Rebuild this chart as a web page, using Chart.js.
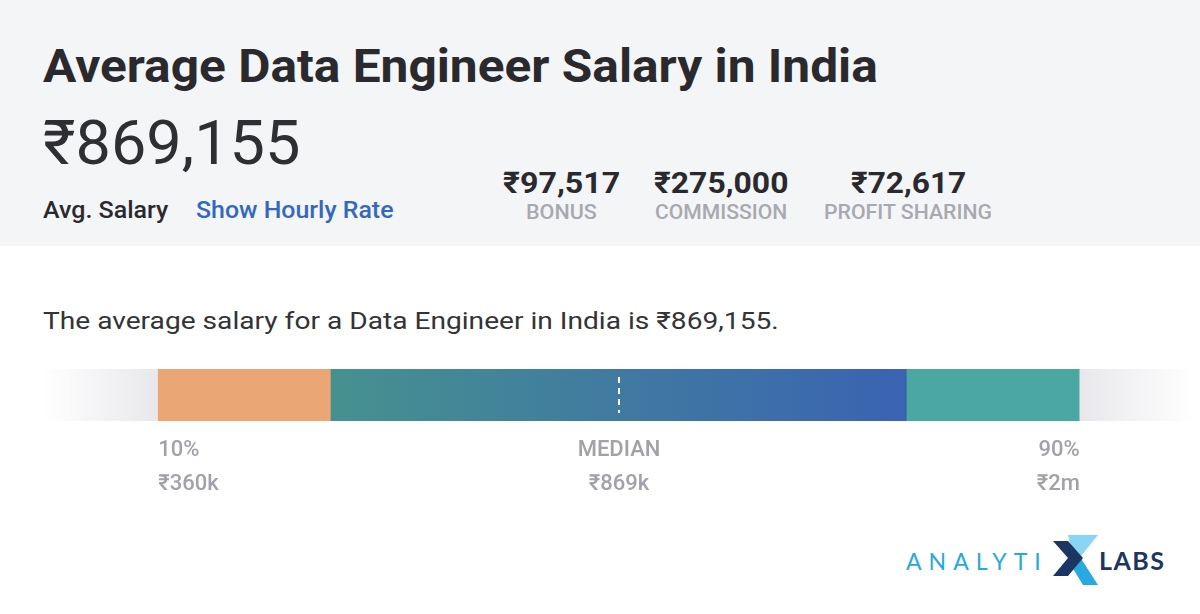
<!DOCTYPE html>
<html>
<head>
<meta charset="utf-8">
<script src="https://cdn.jsdelivr.net/npm/chart.js@4.4.1/dist/chart.umd.min.js"></script>
<style>
  html, body { margin: 0; padding: 0; width: 1200px; height: 614px; overflow: hidden; background: #fff; }
  body { position: relative; font-family: Roboto, "Noto Sans", "DejaVu Sans", sans-serif; }
  .band { position: absolute; left: 0; top: 0; width: 1200px; height: 246px; background: #f4f5f7; }
  .t { position: absolute; white-space: nowrap; line-height: 1; display: inline-block; transform-origin: left center; }
  #chartBox { position: absolute; left: 0; top: 369px; width: 1200px; height: 152px; }
  .logo { position: absolute; white-space: nowrap; line-height: 1; font-family: Lato, "Open Sans", sans-serif; }
</style>
</head>
<body>
<div class="band"></div>

<!-- x, baseline, font size, weight, colour, target width, align -->
<div class="t" data-x="43" data-b="82" data-f="46" data-wt="700" data-c="#2a2a2e" data-w="835">Average Data Engineer Salary in India</div>
<div class="t" data-x="43" data-b="164" data-f="62" data-wt="400" data-c="#2e2e33" data-w="257">₹869,155</div>
<div class="t" data-x="43" data-b="218" data-f="24" data-wt="500" data-c="#2a2a2e" data-w="125">Avg. Salary</div>
<div class="t" data-x="196" data-b="218" data-f="24" data-wt="500" data-c="#3468be" data-w="197">Show Hourly Rate</div>

<div class="t" data-x="561" data-b="193" data-f="30" data-wt="700" data-c="#2a2a2e" data-w="117" data-al="c">₹97,517</div>
<div class="t" data-x="721" data-b="193" data-f="30" data-wt="700" data-c="#2a2a2e" data-w="134" data-al="c">₹275,000</div>
<div class="t" data-x="908" data-b="193" data-f="30" data-wt="700" data-c="#2a2a2e" data-w="115" data-al="c">₹72,617</div>
<div class="t" data-x="561" data-b="219" data-f="20" data-wt="500" data-c="#a8a9b0" data-w="71" data-al="c">BONUS</div>
<div class="t" data-x="721" data-b="219" data-f="20" data-wt="500" data-c="#a8a9b0" data-w="132" data-al="c">COMMISSION</div>
<div class="t" data-x="908" data-b="219" data-f="20" data-wt="500" data-c="#a8a9b0" data-w="168" data-al="c">PROFIT SHARING</div>

<div class="t" data-x="43" data-b="329" data-f="24" data-wt="400" data-c="#333338" data-w="736">The average salary for a Data Engineer in India is ₹869,155.</div>

<div id="chartBox"><canvas id="chart"></canvas></div>

<div class="logo" style="left:906px; top:550px; font-size:23px; letter-spacing:7px; color:#27a8e0;">ANALYTI</div>
<svg style="position:absolute; left:1050px; top:533px;" width="50" height="54" viewBox="1050 533 50 54">
  <polygon points="1068,535 1098,535 1081,556 1071,548" fill="#8ad4f6"/>
  <polygon points="1072,567 1080,557 1098,585 1083,585" fill="#29a9e1"/>
  <polygon points="1053,541 1068,541 1083,558 1068,576 1053,576 1068,558" fill="#1c3663"/>
</svg>
<div class="logo" style="left:1099px; top:548px; font-size:25px; font-weight:700; letter-spacing:1.5px; color:#1c3663;">LABS</div>

<script>
// salary bar, on a percentile scale 0-100
const bandNames = ['Below 10%', '10% - 25%', '25% - 75%', '75% - 90%', 'Above 90%'];
const bandStart = [0, 10, 25, 75, 90];
const bandEnd = [10, 25, 75, 90, 100];
const medianPct = 50;
const tickPct = [10, 50, 90];
const tickTop = ['10%', 'MEDIAN', '90%'];
const tickBottom = ['₹360k', '₹869k', '₹2m'];

function placeText() {
  document.querySelectorAll('.t').forEach(el => {
    const f = +el.dataset.f;
    el.style.fontSize = f + 'px';
    el.style.fontWeight = el.dataset.wt;
    el.style.color = el.dataset.c;
    el.style.top = (+el.dataset.b - 0.842 * f) + 'px';
    const natural = el.offsetWidth;
    const w = +el.dataset.w;
    let s = w / natural;
    s = Math.max(0.8, Math.min(1.3, s));
    el.style.transform = 'scaleX(' + s + ')';
    const x = +el.dataset.x;
    el.style.left = (el.dataset.al === 'c' ? x - natural * s / 2 : x) + 'px';
  });
}

const medianLine = {
  id: 'medianLine',
  afterDatasetsDraw(chart) {
    const { ctx, chartArea, scales } = chart;
    const x = Math.round(scales.x.getPixelForValue(medianPct));
    ctx.save();
    ctx.strokeStyle = '#ffffff';
    ctx.lineWidth = 2;
    ctx.setLineDash([6, 5]);
    ctx.beginPath();
    ctx.moveTo(x, chartArea.top + 8);
    ctx.lineTo(x, chartArea.bottom - 8);
    ctx.stroke();
    ctx.restore();
  }
};

function bandColour(context) {
  const chart = context.chart;
  const area = chart.chartArea;
  if (!area) return '#cccccc';
  const xs = chart.scales.x;
  const i = context.dataIndex;
  const x0 = xs.getPixelForValue(bandStart[i]);
  const x1 = xs.getPixelForValue(bandEnd[i]);
  const c = chart.ctx;
  if (i === 0) {
    const g = c.createLinearGradient(x0, 0, x1, 0);
    g.addColorStop(0, 'rgba(232,232,236,0)');
    g.addColorStop(1, 'rgba(232,232,236,1)');
    return g;
  }
  if (i === 4) {
    const g = c.createLinearGradient(x0, 0, x1, 0);
    g.addColorStop(0, 'rgba(232,232,236,1)');
    g.addColorStop(1, 'rgba(232,232,236,0)');
    return g;
  }
  if (i === 2) {
    const g = c.createLinearGradient(x0, 0, x1, 0);
    g.addColorStop(0, '#46918f');
    g.addColorStop(1, '#3a63b2');
    return g;
  }
  return i === 1 ? '#eba675' : '#4aa7a2';
}

function drawChart() {
  new Chart(document.getElementById('chart'), {
    type: 'bar',
    data: {
      labels: ['Salary'],
      datasets: [{
        label: 'Salary range',
        data: bandStart.map((s, i) => ({ x: [s, bandEnd[i]], y: 'Salary', name: bandNames[i] })),
        backgroundColor: bandColour,
        borderWidth: 0,
        barPercentage: 1,
        categoryPercentage: 1
      }]
    },
    options: {
      indexAxis: 'y',
      responsive: true,
      maintainAspectRatio: false,
      animation: false,
      layout: { padding: { left: 43, right: 5, top: 0, bottom: 0 } },
      plugins: { legend: { display: false }, tooltip: { enabled: false } },
      scales: {
        y: { display: false },
        x: {
          min: 0,
          max: 100,
          grid: { display: false, drawTicks: false },
          border: { display: false },
          afterBuildTicks: axis => { axis.ticks = tickPct.map(v => ({ value: v })); },
          // fixed room under the bar for the two-line labels
          afterFit: axis => { axis.height = 100; },
          ticks: {
            autoSkip: false,
            maxRotation: 0,
            align: 'inner',
            padding: 12,
            color: '#a0a1a9',
            font: { family: 'Roboto', size: 22, weight: '500', lineHeight: 1.55 },
            callback: (v, i) => [tickTop[i], tickBottom[i]]
          }
        }
      }
    },
    plugins: [medianLine]
  });
}

document.fonts.ready.then(() => {
  placeText();
  drawChart();
});
</script>
</body>
</html>
